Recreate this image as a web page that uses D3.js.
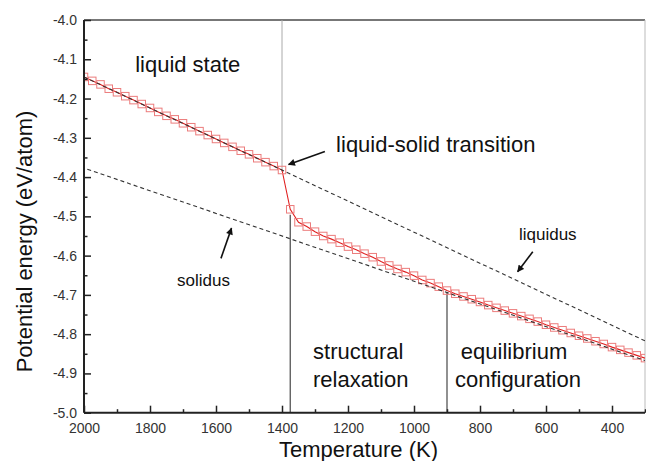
<!DOCTYPE html>
<html><head><meta charset="utf-8">
<script src="https://cdn.jsdelivr.net/npm/d3@7"></script>
<style>body{margin:0;background:#fff}svg{display:block}text{font-family:Arial,"Liberation Sans",sans-serif}</style>
</head><body><svg id="c" width="646" height="461"></svg>
<script>
const temps = [2000,1975,1950,1925,1900,1875,1850,1825,1800,1775,1750,1725,1700,1675,1650,1625,1600,1575,1550,1525,1500,1475,1450,1425,1400,
1375,1350,1325,1300,1275,1250,1225,1200,1175,1150,1125,1100,1075,1050,1025,1000,975,950,925,900,
875,850,825,800,775,750,725,700,675,650,625,600,575,550,525,500,475,450,425,400,375,350,325,300];
const energy = [-4.145,-4.155,-4.164,-4.175,-4.184,-4.194,-4.204,-4.214,-4.224,-4.234,-4.244,-4.253,-4.263,-4.273,-4.283,-4.293,-4.303,-4.313,-4.323,-4.333,-4.342,-4.352,-4.362,-4.372,-4.382,
-4.482,-4.515,-4.526,-4.539,-4.550,-4.558,-4.567,-4.577,-4.585,-4.595,-4.604,-4.615,-4.625,-4.634,-4.642,-4.651,-4.662,-4.670,-4.679,-4.689,
-4.697,-4.704,-4.711,-4.718,-4.726,-4.733,-4.740,-4.747,-4.754,-4.761,-4.768,-4.776,-4.783,-4.790,-4.797,-4.804,-4.811,-4.818,-4.825,-4.833,-4.840,-4.847,-4.854,-4.861];
const liquidusT = [2000, 300], liquidusE = [-4.145, -4.817];
const solidusT = [1990, 300], solidusE = [-4.380, -4.867];
const xTicks = [2000,1800,1600,1400,1200,1000,800,600,400];
const xMinor = [1900,1700,1500,1300,1100,900,700,500,300];
const yTicks = [-4.0,-4.1,-4.2,-4.3,-4.4,-4.5,-4.6,-4.7,-4.8,-4.9,-5.0];
const yMinor = [-4.05,-4.15,-4.25,-4.35,-4.45,-4.55,-4.65,-4.75,-4.85,-4.95];
const vLines = [{t:1400,e0:-4.0,e1:-4.386,c:"#aaa",w:1},{t:1375,e0:-4.496,e1:-5.0,c:"#555",w:1.3},{t:900,e0:-4.693,e1:-5.0,c:"#555",w:1.3}];
const labels = [
 {s:"liquid state",t:1845,e:-4.132,f:22},
 {s:"liquid-solid transition",t:1236,e:-4.335,f:22},
 {s:"liquidus",t:682,e:-4.560,f:17},
 {s:"solidus",t:1718,e:-4.677,f:17},
 {s:"structural",t:1306,e:-4.863,f:22},
 {s:"relaxation",t:1306,e:-4.935,f:22},
 {s:"equilibrium",t:858,e:-4.863,f:22},
 {s:"configuration",t:876,e:-4.935,f:22}];
const arrows = [
 {t0:1270,e0:-4.335,t1:1380,e1:-4.368},
 {t0:1585,e0:-4.607,t1:1553,e1:-4.530},
 {t0:640,e0:-4.590,t1:686,e1:-4.641}];

const svg = d3.select("#c");
const L=84,T=20,R=645,B=412.7;
const x = d3.scaleLinear().domain([2000,300]).range([L,R]);
const y = d3.scaleLinear().domain([-4.0,-5.0]).range([T,B]);
const fmtY = d => d3.format(".1f")(d).replace("\u2212","-");

svg.append("defs").html('<clipPath id="cp"><rect x="'+L+'" y="'+T+'" width="'+(R-L)+'" height="'+(B-T)+'"/></clipPath>'+
 '<marker id="ah" viewBox="0 0 10 10" refX="9" refY="5" markerWidth="9" markerHeight="7" markerUnits="userSpaceOnUse" orient="auto"><path d="M0,0L10,5L0,10z" fill="#111"/></marker>');

// frame top/right
svg.append("line").attr("x1",L).attr("x2",R).attr("y1",T).attr("y2",T).attr("stroke","#777").attr("stroke-width",2);
svg.append("line").attr("x1",R).attr("x2",R).attr("y1",T).attr("y2",B).attr("stroke","#bbb").attr("stroke-width",1);

// vertical lines
vLines.forEach(v=>svg.append("line").attr("x1",x(v.t)).attr("x2",x(v.t)).attr("y1",y(v.e0)).attr("y2",y(v.e1)).attr("stroke",v.c).attr("stroke-width",v.w));

const g = svg.append("g").attr("clip-path","url(#cp)");
const pts = temps.map((t,i)=>[t,energy[i]]);
g.append("path").attr("d",d3.line().x(d=>x(d[0])).y(d=>y(d[1]))(pts)).attr("fill","none").attr("stroke","#e02020").attr("stroke-width",1.1);
g.selectAll("rect.m").data(pts).join("rect").attr("class","m")
 .attr("x",d=>x(d[0])-3.75).attr("y",d=>y(d[1])-3.75).attr("width",7.5).attr("height",7.5)
 .attr("fill","none").attr("stroke","#ec7c7c").attr("stroke-width",1);
const dl = (ts,es)=>g.append("line").attr("x1",x(ts[0])).attr("y1",y(es[0])).attr("x2",x(ts[1])).attr("y2",y(es[1]))
 .attr("stroke","#333").attr("stroke-width",1.1).attr("stroke-dasharray","4,3");
dl(liquidusT,liquidusE); dl(solidusT,solidusE);

// axes
const xa = svg.append("g").attr("transform",`translate(0,${B})`)
 .call(d3.axisBottom(x).tickValues(xTicks).tickSize(-7).tickPadding(10).tickFormat(d3.format("d")));
const xm = svg.append("g").attr("transform",`translate(0,${B})`)
 .call(d3.axisBottom(x).tickValues(xMinor).tickSize(-3.5).tickFormat(""));
const ya = svg.append("g").attr("transform",`translate(${L},0)`)
 .call(d3.axisLeft(y).tickValues(yTicks).tickSize(-7).tickPadding(7).tickFormat(fmtY));
const ym = svg.append("g").attr("transform",`translate(${L},0)`)
 .call(d3.axisLeft(y).tickValues(yMinor).tickSize(-3.5).tickFormat(""));
[xm,ym].forEach(a=>a.select(".domain").remove());
[xa,ya,xm,ym].forEach(a=>{
 a.selectAll(".tick line").attr("stroke","#222").attr("stroke-width",1.5);
 a.selectAll(".tick text").attr("font-size",14).attr("fill","#333").attr("font-family","Arial, 'Liberation Sans', sans-serif");
});
[xa,ya].forEach(a=>a.select(".domain").attr("stroke","#222").attr("stroke-width",2));
xa.select(".domain").attr("d",`M${L},0H${R}`);
ya.select(".domain").attr("d",`M0,${T}V${B}`);

// axis titles
svg.append("text").attr("x",(277+440)/2).attr("y",457).attr("text-anchor","middle").attr("font-size",22).attr("fill","#111").text("Temperature (K)");
svg.append("text").attr("transform","translate(32,241.5) rotate(-90)").attr("text-anchor","middle").attr("font-size",22).attr("fill","#111").text("Potential energy (eV/atom)");

// annotations
labels.forEach(l=>svg.append("text").attr("x",x(l.t)).attr("y",y(l.e)).attr("font-size",l.f).attr("fill","#111").text(l.s));
arrows.forEach(a=>svg.append("line").attr("x1",x(a.t0)).attr("y1",y(a.e0)).attr("x2",x(a.t1)).attr("y2",y(a.e1))
 .attr("stroke","#111").attr("stroke-width",1.6).attr("marker-end","url(#ah)"));
</script></body></html>
